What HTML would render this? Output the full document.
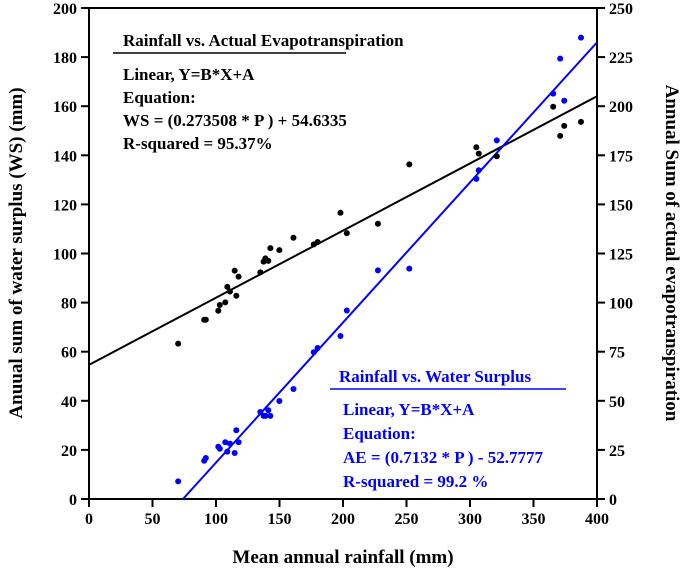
<!DOCTYPE html>
<html><head><meta charset="utf-8"><style>
body{margin:0;background:#fff}
svg text{font-family:"Liberation Serif",serif}
</style></head><body>
<svg id="c" width="685" height="574"></svg>
<script>
const xTicks=[0,50,100,150,200,250,300,350,400];
const yLeftTicks=[0,20,40,60,80,100,120,140,160,180,200];
const yRightTicks=[0,25,50,75,100,125,150,175,200,225,250];
const wsRain=[70.2,90.7,92,101.8,103,107.3,108.9,111,116,114.7,117.8,134.9,137.5,138.9,141.2,142.8,149.9,161,177,180,198,203,227.5,252.2,305,306.9,321.1,365.5,371,374.2,387.4];
const wsVal=[63.3,73,73,76.7,79,80.1,86.4,84.5,82.8,93,90.6,92.3,96.7,98,97,102.2,101.4,106.4,103.7,104.7,116.6,108.3,112.1,136.3,143.3,140.7,139.6,159.8,147.9,152,153.6];
const aeRain=[70.2,90.7,92,101.8,103,107.3,108.9,111,114.7,116,117.8,134.9,137.5,139,141.2,142.8,149.9,161,177,180,198,203,227.5,252.2,305,306.9,321.1,365.5,371,374.2,387.4];
const aeVal=[9,19.5,20.9,26.6,25.6,28.9,24.1,28.2,23.4,35,28.9,44.3,42.3,42.3,45.2,42.3,49.9,56,74.7,76.9,83,96,116.4,117.3,163,167.4,182.6,206.4,224.2,202.8,234.9];
const wsFit=[0.273508,54.6335];
const aeFit=[0.7132,-52.7777];
const L=89,R=597,T=8,B=499;
const X=v=>L+v/400*(R-L);
const YL=v=>B-v/200*(B-T);
const YR=v=>B-v/250*(B-T);
const s=document.getElementById('c');
const NS='http://www.w3.org/2000/svg';
function mk(t,a,txt){const e=document.createElementNS(NS,t);for(const k in a)e.setAttribute(k,a[k]);if(txt!=null)e.textContent=txt;s.appendChild(e);return e;}
let e;
e=mk('rect',{x:L,y:T,width:R-L,height:B-T,fill:'none',stroke:'#000','stroke-width':2});

xTicks.forEach(v=>{mk('line',{x1:X(v),x2:X(v),y1:B,y2:B+8,stroke:'#000','stroke-width':2});
e=mk('text',{x:X(v),y:B+25,'text-anchor':'middle','font-size':16,'font-weight':'bold'},v);
});
yLeftTicks.forEach(v=>{mk('line',{x1:L-8,x2:L,y1:YL(v),y2:YL(v),stroke:'#000','stroke-width':2});
e=mk('text',{x:L-12,y:YL(v)+6,'text-anchor':'end','font-size':16,'font-weight':'bold'},v);
});
yRightTicks.forEach(v=>{mk('line',{x1:R,x2:R+8,y1:YR(v),y2:YR(v),stroke:'#000','stroke-width':2});
e=mk('text',{x:R+12,y:YR(v)+6,'text-anchor':'start','font-size':16,'font-weight':'bold'},v);
});
e=mk('line',{x1:X(0),y1:YL(wsFit[1]),x2:X(400),y2:YL(wsFit[0]*400+wsFit[1]),stroke:'#000','stroke-width':2});

const x0=-aeFit[1]/aeFit[0];
e=mk('line',{x1:X(x0),y1:YR(0),x2:X(400),y2:YR(aeFit[0]*400+aeFit[1]),stroke:'#0000ff','stroke-width':2});

wsRain.forEach((r,i)=>{e=mk('circle',{cx:X(r),cy:YL(wsVal[i]),r:3,fill:'#000'});
});
aeRain.forEach((r,i)=>{e=mk('circle',{cx:X(r),cy:YR(aeVal[i]),r:3,fill:'#0000ff'});
});
function t(x,y,txt,col,name,size){e=mk('text',{x:x,y:y,'font-size':size||17,'font-weight':'bold',fill:col},txt);
}
t(123,46,'Rainfall vs. Actual Evapotranspiration','#000','black-annotation-title');
mk('line',{x1:113,x2:346,y1:53,y2:53,stroke:'#000','stroke-width':1.5});
t(123,80,'Linear, Y=B*X+A','#000','black-annotation-line');
t(123,103,'Equation:','#000','black-annotation-line');
t(123,126,'WS = (0.273508 * P ) + 54.6335','#000','black-annotation-line');
t(123,149,'R-squared = 95.37%','#000','black-annotation-line');
t(339,382,'Rainfall vs. Water Surplus','#0000ff','blue-annotation-title');
mk('line',{x1:330,x2:566,y1:389,y2:389,stroke:'#0000ff','stroke-width':1.5});
t(343,415,'Linear, Y=B*X+A','#0000ff','blue-annotation-line');
t(343,439,'Equation:','#0000ff','blue-annotation-line');
t(343,463,'AE = (0.7132 * P ) - 52.7777','#0000ff','blue-annotation-line');
t(343,487,'R-squared = 99.2 %','#0000ff','blue-annotation-line');
e=mk('text',{x:343,y:563,'text-anchor':'middle','font-size':19,'font-weight':'bold'},'Mean annual rainfall (mm)');

e=mk('text',{x:0,y:0,'text-anchor':'middle','font-size':19,'font-weight':'bold',transform:'translate(22,253) rotate(-90)'},'Anuual sum of water surplus (WS) (mm)');

e=mk('text',{x:0,y:0,'text-anchor':'middle','font-size':19,'font-weight':'bold',transform:'translate(666,253) rotate(90)'},'Annual Sum of actual evapotranspiration');

</script>
</body></html>
